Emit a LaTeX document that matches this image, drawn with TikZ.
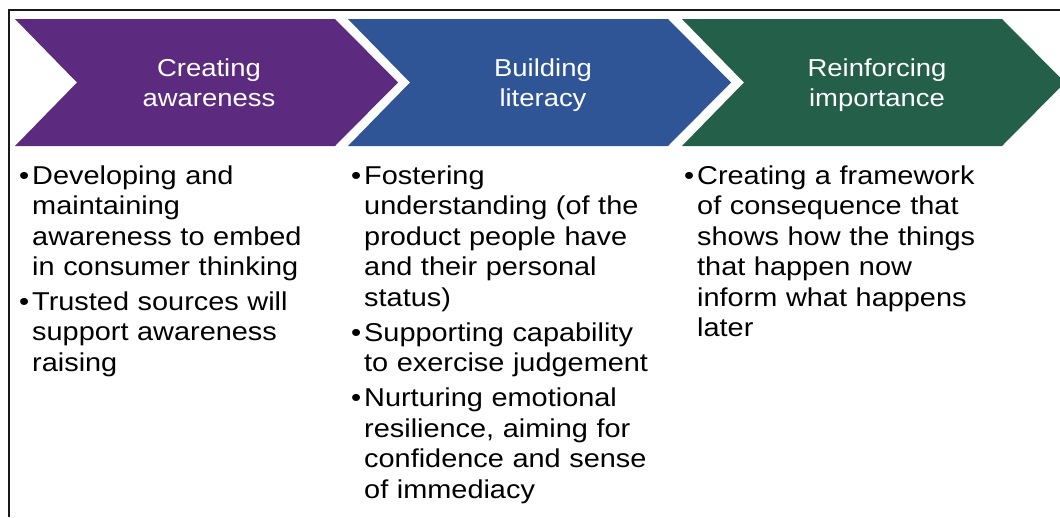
\documentclass[tikz,border=0pt]{standalone}
\usepackage{fontspec}
\setmainfont{Liberation Sans}[FakeStretch=1.12]
\definecolor{chevpurple}{HTML}{5C2A7E}
\definecolor{chevblue}{HTML}{2F5597}
\definecolor{chevgreen}{HTML}{245F4A}
\newcommand\bl{\makebox[13pt][l]{\textbullet}}
\newcommand\cont{\hspace*{13pt}}
\begin{document}
\begin{tikzpicture}[x=1pt,y=-1pt,
  chevron/.style={fill=#1, draw=none},
  heading/.style={text=white, align=center, text width=260pt, inner sep=0pt,
    anchor=base, font=\fontsize{24.5}{30}\selectfont},
  bodytext/.style={text=black, align=left, text width=320pt, inner sep=0pt,
    anchor=base west, font=\fontsize{25.8}{30.5}\selectfont}]
\useasboundingbox (0,0) rectangle (1060,517);
\clip (0,0) rectangle (1060,517);
% outer frame (top and left edges)
\draw[line width=2pt, black!90] (9,517) -- (9,10) -- (1060,10);
% the three process chevrons
\foreach \x/\c in {15/chevpurple, 348/chevblue, 682/chevgreen}{
  \fill[chevron=\c] (\x,19) -- ++(320,0) -- ++(63,63.5) -- ++(-63,63.5)
    -- ++(-320,0) -- ++(62,-63.5) -- cycle;
}
% headings
\node[heading] (h1) at (209,76) {Creating\\awareness};
\node[heading] (h2) at (543,76) {Building\\literacy};
\node[heading] (h3) at (877,76) {Reinforcing\\importance};
% bullet columns
\node[bodytext] (b1) at (19,184) {%
  \bl Developing and\\
  \cont maintaining\\
  \cont awareness to embed\\
  \cont in consumer thinking\\[4pt]
  \bl Trusted sources will\\
  \cont support awareness\\
  \cont raising};
\node[bodytext] (b2) at (351,184) {%
  \bl Fostering\\
  \cont understanding (of the\\
  \cont product people have\\
  \cont and their personal\\
  \cont status)\\[4.5pt]
  \bl Supporting capability\\
  \cont to exercise judgement\\[4.5pt]
  \bl Nurturing emotional\\
  \cont resilience, aiming for\\
  \cont confidence and sense\\
  \cont of immediacy};
\node[bodytext] (b3) at (684,184) {%
  \bl Creating a framework\\
  \cont of consequence that\\
  \cont shows how the things\\
  \cont that happen now\\
  \cont inform what happens\\
  \cont later};
\end{tikzpicture}
\end{document}
